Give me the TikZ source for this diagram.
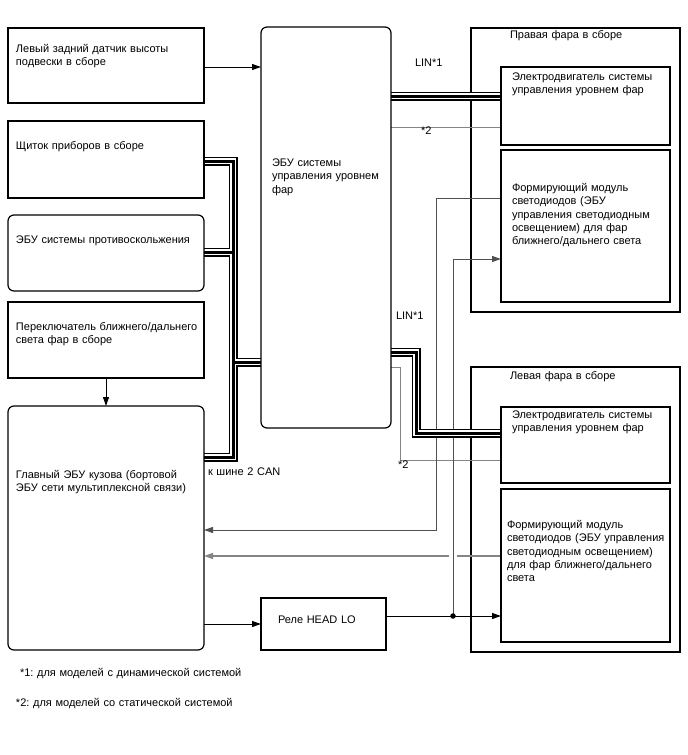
\documentclass[tikz,border=0pt]{standalone}
\usepackage{fontspec}
\setmainfont{Liberation Sans}
\usetikzlibrary{arrows.meta}
\frenchspacing
\pgfdeclarelayer{back}
\pgfdeclarelayer{wires}
\pgfsetlayers{back,wires,main}
\definecolor{dk}{HTML}{505050}
\definecolor{lg}{HTML}{858585}
\tikzset{
  box/.style={draw, line width=1.2pt, inner sep=0pt, outer sep=0pt},
  rbox/.style={box, rounded corners=6pt},
  txt/.style={anchor=base west, inner sep=0pt, outer sep=0pt, align=left, text width=#1, font=\fontsize{11}{13.3}\selectfont\frenchspacing},
  txt/.default=190pt,
  arr/.style={-{Triangle[length=9pt,width=6pt]}},
  sig/.style={line width=1pt, black},
  dsig/.style={line width=1pt, dk},
  gsig/.style={line width=1pt, lg},
  gsigb/.style={line width=1.5pt, lg},
  jdot/.style={circle, fill, inner sep=0pt, minimum size=5.5pt},
}
\newcommand\cabledraw[1]{%
  \draw[line width=9pt] #1;
  \draw[white,line width=6pt] #1;
  \draw[line width=3pt] #1;}
\begin{document}
\begin{tikzpicture}[x=1pt,y=-1pt]
\useasboundingbox (0,0) rectangle (688,755);
% outer headlamp boxes
\begin{pgfonlayer}{back}
\node[box, minimum width=209pt, minimum height=284pt] (RH) at (575.5,170) {};
\node[box, minimum width=209pt, minimum height=285pt] (LH) at (575.5,509.5) {};
\end{pgfonlayer}
% boxes
\node[box, minimum width=196pt, minimum height=75pt] (A) at (106,65.5) {};
\node[box, minimum width=196pt, minimum height=77pt] (B) at (106,159.5) {};
\node[rbox, minimum width=196pt, minimum height=76pt] (C) at (106,253) {};
\node[box, minimum width=196pt, minimum height=76pt] (D) at (106,340) {};
\node[rbox, minimum width=196pt, minimum height=244pt] (E) at (106,528) {};
\node[rbox, minimum width=130pt, minimum height=401pt] (ecu) at (326,227.5) {};
\node[box, minimum width=125pt, minimum height=52pt] (relay) at (323.5,624) {};
\node[box, minimum width=169pt, minimum height=78pt] (RM) at (585.5,106) {};
\node[box, minimum width=169pt, minimum height=152pt] (RL) at (585.5,226) {};
\node[box, minimum width=169pt, minimum height=76pt] (LM) at (585.5,445) {};
\node[box, minimum width=169pt, minimum height=153pt] (LL) at (585.5,565.5) {};
\node[jdot] (jn) at (453,616) {};
% texts
\node[txt] (tA) at (16,52) {Левый задний датчик высоты\\подвески в сборе};
\node[txt] (tB) at (16,149.5) {Щиток приборов в сборе};
\node[txt] (tC) at (16,243.5) {ЭБУ системы противоскольжения};
\node[txt] (tD) at (16,330.5) {Переключатель ближнего/дальнего\\света фар в сборе};
\node[txt] (tE) at (16,478.5) {Главный ЭБУ кузова (бортовой\\ЭБУ сети мультиплексной связи)};
\node[txt=120pt] (tecu) at (272,166.5) {ЭБУ системы\\управления уровнем\\фар};
\node[txt=110pt] (trelay) at (278,623.5) {Реле HEAD LO};
\node[txt=160pt] (tRH) at (510,38.5) {Правая фара в сборе};
\node[txt=160pt] (tRM) at (512,80.5) {Электродвигатель системы\\управления уровнем фар};
\node[txt=160pt] (tRL) at (512,191.5) {Формирующий модуль\\светодиодов (ЭБУ\\управления светодиодным\\освещением) для фар\\ближнего/дальнего света};
\node[txt=160pt] (tLH) at (510,379.5) {Левая фара в сборе};
\node[txt=160pt] (tLM) at (512,418.5) {Электродвигатель системы\\управления уровнем фар};
\node[txt=165pt] (tLL) at (507,528.5) {Формирующий модуль\\светодиодов (ЭБУ управления\\светодиодным освещением)\\для фар ближнего/дальнего\\света};
\node[txt=60pt] (lin1) at (415,66.5) {LIN*1};
\node[txt=30pt] (s21) at (421,134.5) {*2};
\node[txt=60pt] (lin2) at (396,319.5) {LIN*1};
\node[txt=30pt] (s22) at (398,468.5) {*2};
\node[txt=120pt] (tcan) at (208,475.5) {к шине 2 CAN};
\node[txt=300pt] (fn1) at (20,676.5) {*1: для моделей с динамической системой};
\node[txt=300pt] (fn2) at (16,706.5) {*2: для моделей со статической системой};
% wires
\begin{pgfonlayer}{wires}
\draw[sig,arr] (A.east |- 0,67) -- (ecu.west |- 0,67);
\draw[sig,arr] (D.south) -- (E.north);
\draw[gsig] (ecu.east |- 0,127) -- (RM.west |- 0,127);
\draw[gsig] (ecu.east |- 0,367) -- (400,367) -- (400,460) -- (LM.west |- 0,460);
\draw[dsig,arr] (RL.west |- 0,198) -- (436,198) -- (436,530) -- (E.east |- 0,530);
\draw[gsigb] (LL.west |- 0,556) -- (457,556);
\draw[gsigb,arr] (449,556) -- (E.east |- 0,556);
\draw[sig,arr] (E.east |- relay.west) -- (relay.west);
\draw[sig,arr] (relay.east |- jn) -- (LL.west |- jn);
\draw[dsig,arr] (jn.center) -- (453,259) -- (RL.west |- 0,259);
\cabledraw{(ecu.east |- 0,96) -- (RM.west |- 0,96)}
\cabledraw{(ecu.east |- 0,352) -- (416,352) -- (416,433) -- (LM.west |- 0,433)}
\cabledraw{(B.east |- 0,161) -- (233,161) -- (233,457) -- (E.east |- 0,457) (C.east |- 0,252) -- (233,252) (233,362) -- (ecu.west |- 0,362)}
\end{pgfonlayer}
\end{tikzpicture}
\end{document}
